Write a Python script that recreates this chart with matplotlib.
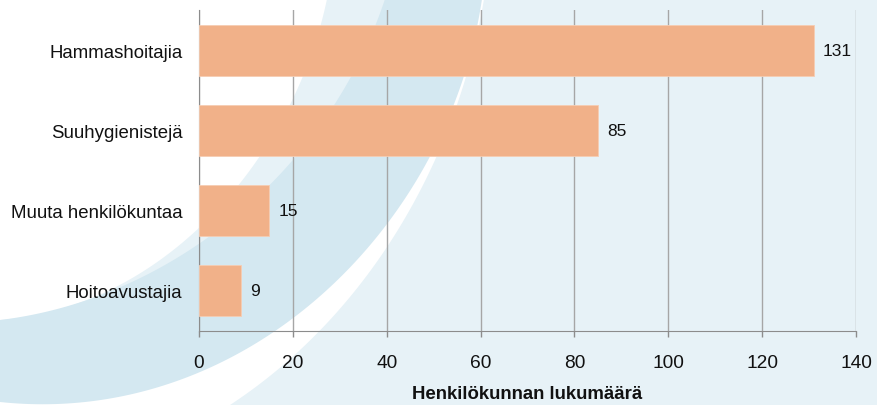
import matplotlib
matplotlib.use("Agg")
import matplotlib.pyplot as plt
import numpy as np

plt.rcParams['font.family'] = ['Liberation Sans', 'DejaVu Sans']

categories = ["Hammashoitajia", "Suuhygienistejä", "Muuta henkilökuntaa", "Hoitoavustajia"]
values = [131, 85, 15, 9]
xticks = [0, 20, 40, 60, 80, 100, 120, 140]
xlabel = "Henkilökunnan lukumäärä"

W, H = 877, 406
LIGHT = "#e7f2f7"
DARK = "#d4e8f1"
BAR = "#f1b189"


def bezier_fit(pts, n=120):
    # least squares cubic bezier with fixed ends, for the background swoosh only
    pts = np.asarray(pts, float)
    d = np.r_[0, np.cumsum(np.hypot(*np.diff(pts, axis=0).T))]
    t = d / d[-1]
    p0, p3 = pts[0], pts[-1]
    b1 = 3 * t * (1 - t) ** 2
    b2 = 3 * t ** 2 * (1 - t)
    rhs = pts - np.outer((1 - t) ** 3, p0) - np.outer(t ** 3, p3)
    A = np.c_[b1, b2]
    ctrl, *_ = np.linalg.lstsq(A, rhs, rcond=None)
    p1, p2 = ctrl
    s = np.linspace(0, 1, n)[:, None]
    return (1 - s) ** 3 * p0 + 3 * s * (1 - s) ** 2 * p1 + 3 * s ** 2 * (1 - s) * p2 + s ** 3 * p3


# swoosh edges in pixel coords (y down)
edge_a = [(327, 0), (322, 25), (296, 92), (262, 157), (233, 190), (200, 227),
          (150, 268), (100, 297), (50, 313), (0, 321)]
edge_b = [(385, 0), (376, 25), (340, 100), (290, 160), (255, 200), (200, 247),
          (133, 282), (60, 308), (0, 321)]
edge_d = [(482, 0), (477, 25), (427, 157), (390, 222), (350, 270), (313, 302),
          (247, 357), (200, 372), (120, 392), (0, 403)]
edge_e = [(484, 0), (479, 22), (437, 157), (402, 222), (373, 270), (350, 300),
          (307, 343), (268, 377), (230, 406)]

fig = plt.figure(figsize=(W / 100, H / 100), dpi=100)
fig.patch.set_facecolor("white")

bg = fig.add_axes([0, 0, 1, 1], zorder=0)
bg.set_xlim(0, W)
bg.set_ylim(H, 0)
bg.axis("off")
for edge, col in [(edge_a, LIGHT), (edge_b, DARK), (edge_d, "white"), (edge_e, LIGHT)]:
    c = bezier_fit(edge)
    tail = [(0, H + 5)] if c[-1][0] <= 1 else []
    poly = np.vstack([c] + ([np.array(tail)] if tail else []) +
                     [np.array([(W + 5, H + 5), (W + 5, -5), (c[0][0], -5)])])
    bg.fill(poly[:, 0], poly[:, 1], color=col, lw=0)

ax = fig.add_axes([199 / W, (H - 332) / H, (856 - 199) / W, (332 - 11) / H], zorder=1)
ax.patch.set_alpha(0)

y = np.arange(len(categories))
ax.barh(y, values, height=0.635, color=BAR, edgecolor="#f6cdb3", linewidth=0.6, zorder=3)
for yi, v in zip(y, values):
    ax.text(v + 1.9, yi, str(v), va="center", ha="left", fontsize=12.5, color="#111111")

ax.set_ylim(len(categories) - 0.5, -0.5)
ax.set_xlim(0, 140)
ax.set_yticks(y)
ax.set_yticklabels(categories, fontsize=13.4, color="#111111")
ax.set_xticks(xticks)
ax.set_xticklabels([str(t) for t in xticks], fontsize=13.8, color="#111111")
ax.tick_params(axis="y", length=0, pad=12)
ax.tick_params(axis="x", length=4, width=1, color="#8c8c8c", pad=12.5)
ax.grid(axis="x", color="#a6a6a6", linewidth=1, zorder=1)
ax.set_axisbelow(True)
for s in ["top", "right"]:
    ax.spines[s].set_visible(False)
ax.spines["left"].set_color("#8c8c8c")
ax.spines["bottom"].set_color("#8c8c8c")
ax.set_xlabel(xlabel, fontsize=13.4, fontweight="bold", color="#111111", labelpad=10)

fig.savefig("out.png", dpi=100)
